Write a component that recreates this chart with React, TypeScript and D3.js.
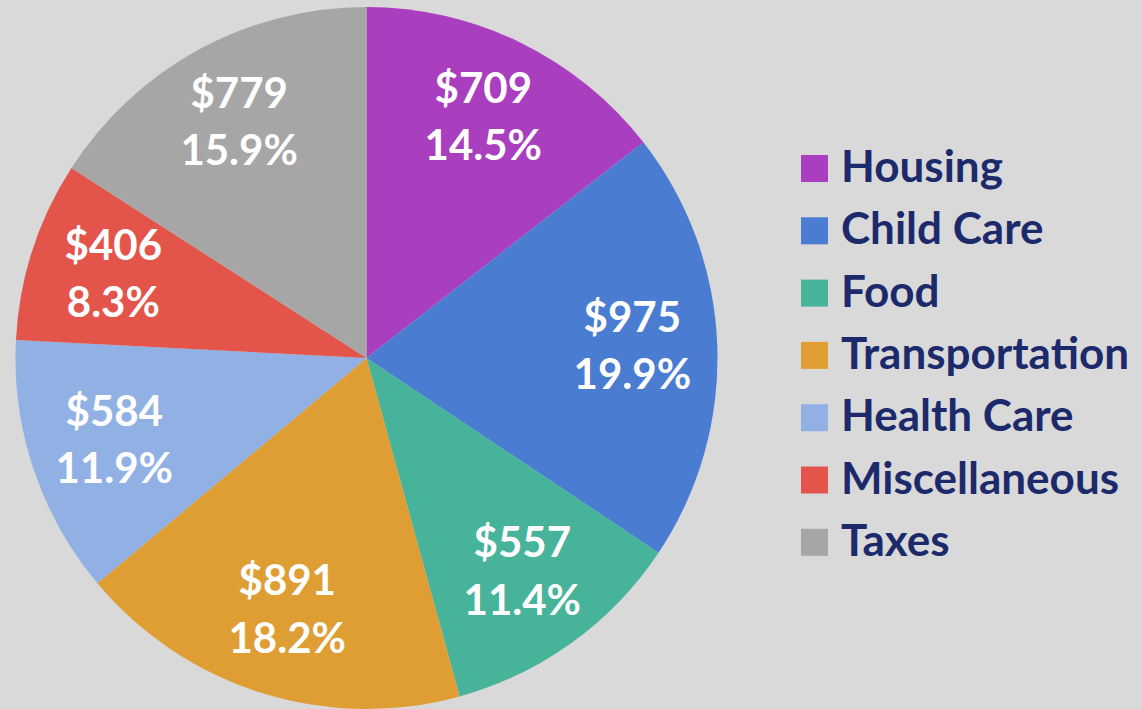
import React, { useEffect, useRef } from 'react'
import { select, pie, arc } from 'd3'

const categories = ['Housing', 'Child Care', 'Food', 'Transportation', 'Health Care', 'Miscellaneous', 'Taxes']
const amounts = [709, 975, 557, 891, 584, 406, 779]
const percents = ['14.5%', '19.9%', '11.4%', '18.2%', '11.9%', '8.3%', '15.9%']
const colors = ['#a93fbf', '#4a7dd2', '#47b39b', '#df9e33', '#91b1e5', '#e3554a', '#a6a6a6']

function App() {
  const ref = useRef<SVGSVGElement | null>(null)

  const width = 1142, height = 709
  const cx = 366.5, cy = 358, radius = 351
  const labelR = 266

  useEffect(() => {
    const svg = select(ref.current)
    svg.selectAll('*').remove()

    svg.append('rect')
      .attr('width', width)
      .attr('height', height)
      .attr('fill', '#d9d9d9')

    const data = categories.map((c, i) => ({ name: c, value: amounts[i], pct: percents[i], color: colors[i] }))

    const arcs = pie<any>().value(d => d.value).sort(null)(data)
    const slice = arc<any>().innerRadius(0).outerRadius(radius)
    const labelArc = arc<any>().innerRadius(labelR).outerRadius(labelR)

    const g = svg.append('g').attr('transform', `translate(${cx},${cy})`)

    g.selectAll('path')
      .data(arcs)
      .join('path')
      .attr('d', slice)
      .attr('fill', d => d.data.color)

    const labels = g.selectAll('g.lbl')
      .data(arcs)
      .join('g')
      .attr('class', 'lbl')
      .attr('transform', d => {
        const [x, y] = labelArc.centroid(d)
        return `translate(${x},${y - 4})`
      })

    labels.append('text')
      .attr('y', -28.5)
      .attr('text-anchor', 'middle')
      .attr('dominant-baseline', 'central')
      .style('font', 'bold 42px Lato')
      .attr('fill', '#fff')
      .text(d => `$${d.data.value}`)

    labels.append('text')
      .attr('y', 29)
      .attr('text-anchor', 'middle')
      .attr('dominant-baseline', 'central')
      .style('font', 'bold 42px Lato')
      .attr('fill', '#fff')
      .text(d => d.data.pct)

    // legend
    const legend = svg.append('g').attr('transform', 'translate(801,155)')
    const rows = legend.selectAll('g')
      .data(data)
      .join('g')
      .attr('transform', (d, i) => `translate(0,${i * 62.3})`)

    rows.append('rect')
      .attr('width', 27)
      .attr('height', 27)
      .attr('fill', d => d.color)

    rows.append('text')
      .attr('x', 40)
      .attr('y', 27)
      .style('font', 'bold 44px Lato')
      .attr('fill', '#1c2a6c')
      .text(d => d.name)
  }, [])

  return (
    <svg ref={ref} width={width} height={height}
      style={{ position: 'absolute', top: 0, left: 0, display: 'block' }} />
  )
}

export default App
